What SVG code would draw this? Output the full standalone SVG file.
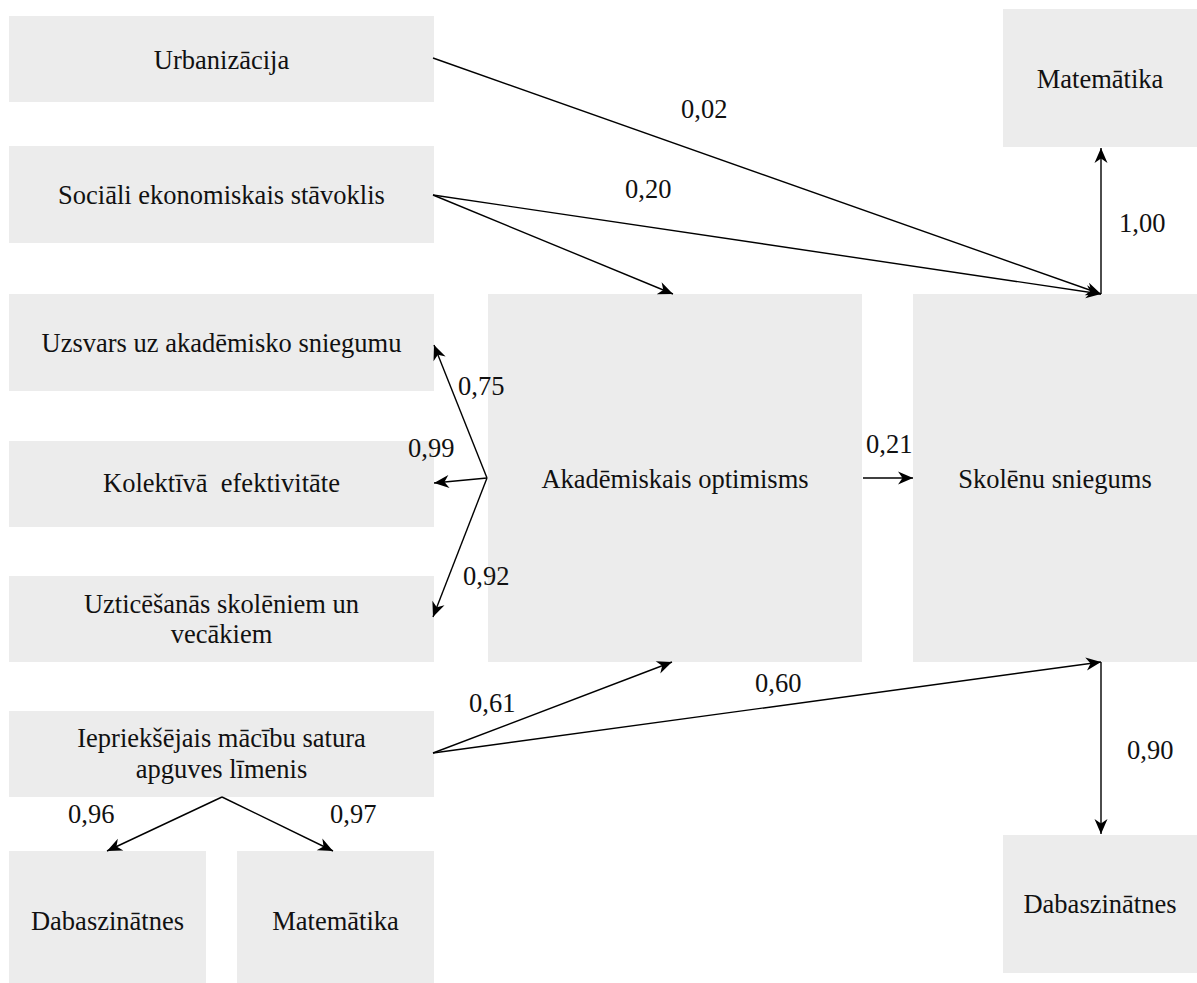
<svg xmlns="http://www.w3.org/2000/svg" width="1197" height="983" viewBox="0 0 1197 983">
  <style>
    .box { fill: #ececec; }
    .lbl { font-family: "Liberation Serif", "Times New Roman", serif; font-size: 26.5px; fill: #111; text-anchor: middle; }
    .coef { font-family: "Liberation Serif", "Times New Roman", serif; font-size: 26.5px; fill: #111; }
    .edge { stroke: #000; stroke-width: 1.4; fill: none; marker-end: url(#head); }
  </style>
  <defs>
    <marker id="head" markerUnits="userSpaceOnUse" viewBox="-16 -8 17 16" refX="0" refY="0" markerWidth="17" markerHeight="16" orient="auto">
      <path d="M0,0 L-15,-6.5 L-10.5,0 L-15,6.5 Z" fill="#000"/>
    </marker>
  </defs>
  <rect width="1197" height="983" fill="#fff"/>

  <g id="urbanizacija">
    <rect class="box" x="9" y="16" width="425" height="86"/>
    <text class="lbl" x="221.5" y="69">Urbanizācija</text>
  </g>
  <g id="ses">
    <rect class="box" x="9" y="146" width="425" height="97"/>
    <text class="lbl" x="221.5" y="204">Sociāli ekonomiskais stāvoklis</text>
  </g>
  <g id="uzsvars">
    <rect class="box" x="9" y="294" width="425" height="97"/>
    <text class="lbl" x="221.5" y="352">Uzsvars uz akadēmisko sniegumu</text>
  </g>
  <g id="kolektiva">
    <rect class="box" x="9" y="441" width="425" height="86"/>
    <text class="lbl" x="221.5" y="492" xml:space="preserve">Kolektīvā  efektivitāte</text>
  </g>
  <g id="uzticesanas">
    <rect class="box" x="9" y="576" width="425" height="86"/>
    <text class="lbl" x="221.5" y="613">Uzticēšanās skolēniem un</text>
    <text class="lbl" x="221.5" y="643">vecākiem</text>
  </g>
  <g id="ieprieksejais">
    <rect class="box" x="9" y="711" width="425" height="86"/>
    <text class="lbl" x="221.5" y="747">Iepriekšējais mācību satura</text>
    <text class="lbl" x="221.5" y="778">apguves līmenis</text>
  </g>
  <g id="dabaszinatnes-iepr">
    <rect class="box" x="9" y="851" width="197" height="132"/>
    <text class="lbl" x="107.5" y="930">Dabaszinātnes</text>
  </g>
  <g id="matematika-iepr">
    <rect class="box" x="237" y="851" width="197" height="132"/>
    <text class="lbl" x="335.5" y="930">Matemātika</text>
  </g>
  <g id="optimisms">
    <rect class="box" x="488" y="294" width="374" height="368"/>
    <text class="lbl" x="675" y="488">Akadēmiskais optimisms</text>
  </g>
  <g id="sniegums">
    <rect class="box" x="913" y="294" width="284" height="368"/>
    <text class="lbl" x="1055" y="488">Skolēnu sniegums</text>
  </g>
  <g id="matematika">
    <rect class="box" x="1003" y="9" width="194" height="138"/>
    <text class="lbl" x="1100" y="88">Matemātika</text>
  </g>
  <g id="dabaszinatnes">
    <rect class="box" x="1003" y="835" width="194" height="138"/>
    <text class="lbl" x="1100" y="913">Dabaszinātnes</text>
  </g>

  <g id="connectors">
    <line class="edge" x1="433" y1="58" x2="1101" y2="294"/>
    <line class="edge" x1="433" y1="195" x2="1101" y2="294"/>
    <line class="edge" x1="433" y1="195" x2="673" y2="294"/>
    <line class="edge" x1="487" y1="478" x2="434" y2="345"/>
    <line class="edge" x1="487" y1="478" x2="434" y2="483"/>
    <line class="edge" x1="487" y1="478" x2="433" y2="617"/>
    <line class="edge" x1="863" y1="478" x2="913" y2="478"/>
    <line class="edge" x1="1101" y1="294" x2="1101" y2="148"/>
    <line class="edge" x1="1101" y1="662" x2="1101" y2="834"/>
    <line class="edge" x1="433" y1="753" x2="672" y2="662"/>
    <line class="edge" x1="433" y1="753" x2="1101" y2="662"/>
    <line class="edge" x1="222" y1="797" x2="107" y2="851"/>
    <line class="edge" x1="222" y1="797" x2="333" y2="851"/>
  </g>

  <g id="coefficients">
    <text class="coef" x="681" y="118">0,02</text>
    <text class="coef" x="625" y="198">0,20</text>
    <text class="coef" x="1119" y="232">1,00</text>
    <text class="coef" x="458" y="395">0,75</text>
    <text class="coef" x="408" y="457">0,99</text>
    <text class="coef" x="463" y="585">0,92</text>
    <text class="coef" x="866" y="453">0,21</text>
    <text class="coef" x="469" y="712">0,61</text>
    <text class="coef" x="755" y="692">0,60</text>
    <text class="coef" x="1127" y="759">0,90</text>
    <text class="coef" x="68" y="823">0,96</text>
    <text class="coef" x="330" y="823">0,97</text>
  </g>
</svg>
